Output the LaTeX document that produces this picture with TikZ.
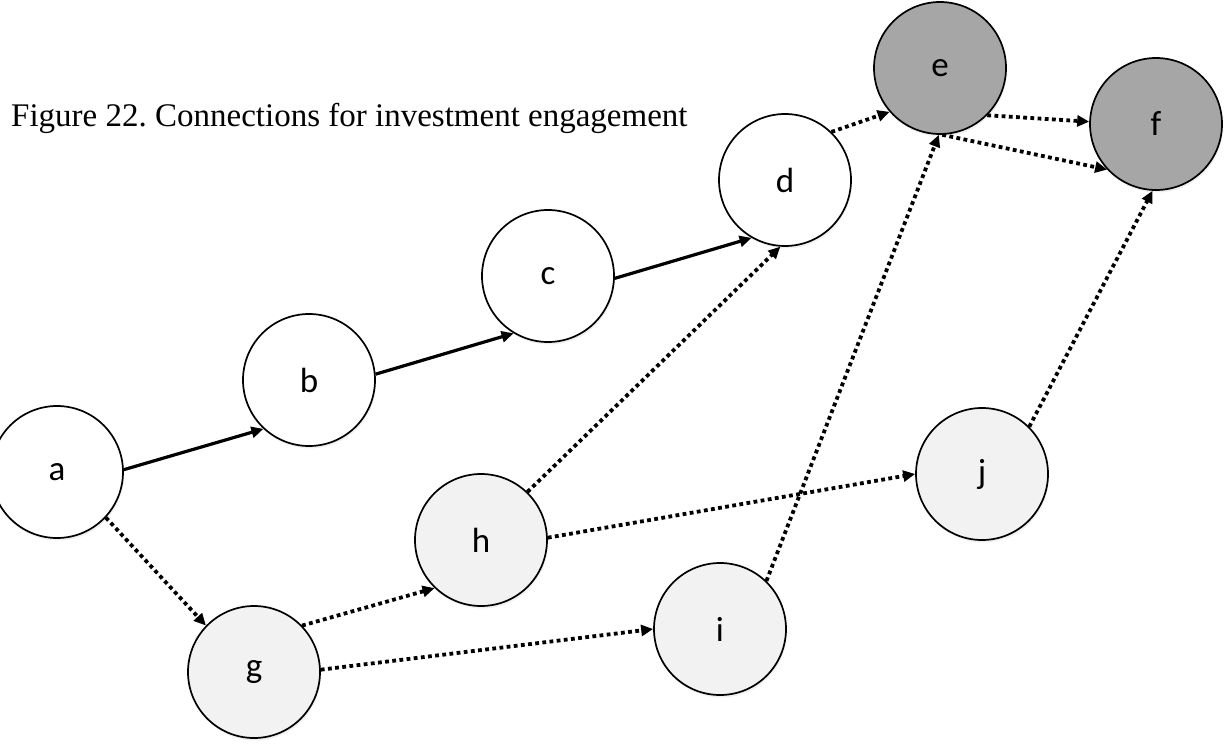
\documentclass[tikz,border=0pt]{standalone}
\usepackage{fontspec}
\setmainfont{Liberation Serif}
\newfontfamily\lblfont{Carlito}
\usetikzlibrary{arrows.meta,shadows}
\frenchspacing
\tikzset{
  nd/.style={circle, draw=black, line width=1.7pt, minimum size=132pt, inner sep=0pt,
    font=\lblfont\fontsize{35}{38}\selectfont,
    drop shadow={opacity=0.12, shadow xshift=1pt, shadow yshift=-2.5pt}},
  white/.style={nd, fill=white},
  light/.style={nd, fill=gray!10},
  dark/.style={nd, fill={rgb,255:red,166;green,166;blue,166}},
  solidarrow/.style={line width=3.2pt, -{Triangle[length=12pt,width=11pt]}},
  dotarrow/.style={line width=3.8pt, dash pattern=on 3.8pt off 3.4pt, -{Triangle[length=12pt,width=11pt]}}
}
\begin{document}
\begin{tikzpicture}[x=1pt,y=-1pt]
\useasboundingbox (0,0) rectangle (1225,744);
\node[anchor=base west, font=\fontsize{33}{36}\selectfont, inner sep=0pt] (title) at (11,126) {Figure 22. Connections for investment engagement};
\node[white] (a) at (57,472) {a};
\node[white] (b) at (309,380) {b};
\node[white] (c) at (548,276) {c};
\node[white] (d) at (785,180) {d};
\node[dark] (e) at (940,68) {e};
\node[dark] (f) at (1156,124) {f};
\node[light] (g) at (254,672) {g};
\node[light] (h) at (481,540) {h};
\node[light] (i) at (720,629) {i};
\node[light] (j) at (982,474) {j};
\draw[solidarrow] (a.2) -- (b.-133);
\draw[solidarrow] (b.5) -- (c.-121);
\draw[solidarrow] (c.-2) -- (d.-120);
\draw[dotarrow] (a.-43) -- (g.136);
\draw[dotarrow] (g.44) -- (h.-134);
\draw[dotarrow] (g.2) -- (i.180);
\draw[dotarrow] (h.46) -- (d.-94);
\draw[dotarrow] (h.2) -- (j.180);
\draw[dotarrow] (i.46) -- (e.-91);
\draw[dotarrow] (j.45) -- (f.-93);
\draw[dotarrow] (d.46) -- (e.-139);
\draw[dotarrow] (e.-45) -- (f.178);
\draw[dotarrow] (e.-88) -- (f.-137);
\end{tikzpicture}
\end{document}
